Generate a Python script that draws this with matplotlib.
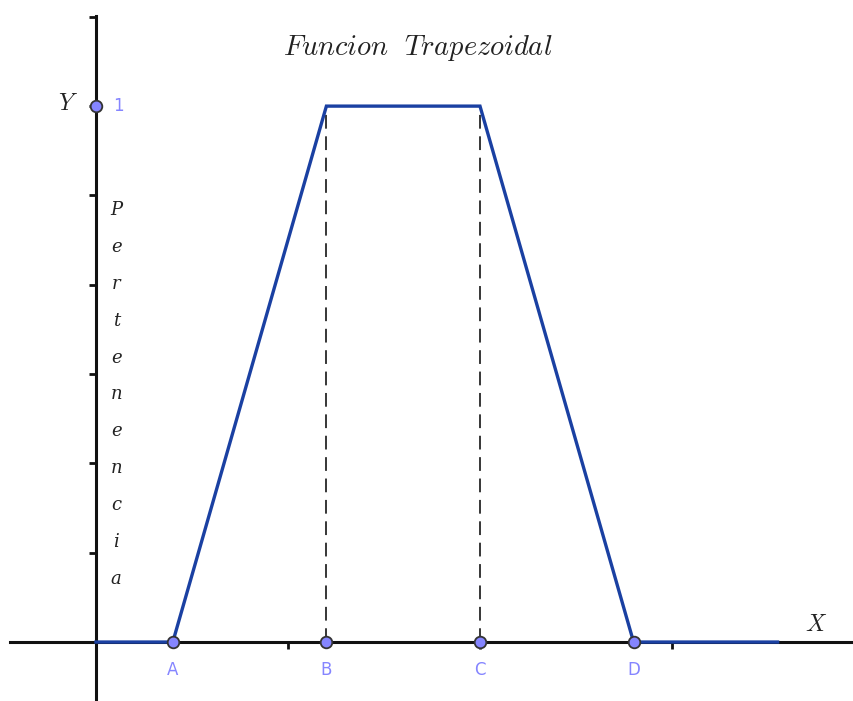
import numpy as np
import matplotlib.pyplot as plt

plt.rcParams['mathtext.fontset'] = 'cm'

# trapezoid corners on the x axis
point_names = ['A', 'B', 'C', 'D']
point_x = [0.4, 1.2, 2.0, 2.8]
# membership curve
curve_x = [0.0, 0.4, 1.2, 2.0, 2.8, 3.55]
curve_y = [0.0, 0.0, 1.0, 1.0, 0.0, 0.0]
y_label_word = 'Pertenencia'

BLUE = '#1a40a2'
PT = '#8585ff'

fig = plt.figure(figsize=(8.54, 7.01), dpi=100)
ax = fig.add_axes([0, 0, 1, 1])
ax.set_xlim(-0.5, 3.948)
ax.set_ylim(-0.110, 1.198)

for s in ['top', 'right']:
    ax.spines[s].set_visible(False)
ax.spines['left'].set_position(('data', 0))
ax.spines['bottom'].set_position(('data', 0))
ax.spines['left'].set_bounds(-0.110, 1.168)
ax.spines['bottom'].set_bounds(-0.45, 3.948)
for s in ['left', 'bottom']:
    ax.spines[s].set_linewidth(2.2)
    ax.spines[s].set_color('#111111')
    ax.spines[s].set_zorder(1)

ax.set_xticks([1, 2, 3])
ax.set_yticks([k / 6 for k in range(1, 8)])
ax.tick_params(axis='both', direction='out', length=5, width=2.0, color='#111111',
               labelleft=False, labelbottom=False)

ax.plot(curve_x, curve_y, color=BLUE, lw=2.4, zorder=3, solid_joinstyle='miter')
for x in point_x[1:3]:
    ax.plot([x, x], [0, 1], color='black', lw=1.1, dashes=(9, 5), zorder=2)

ax.scatter(point_x, [0] * 4, s=70, color=PT, edgecolor='#333333', linewidth=1.3, zorder=4)
ax.scatter([0], [1], s=70, color=PT, edgecolor='#333333', linewidth=1.3, zorder=4)

for name, x in zip(point_names, point_x):
    ax.text(x, -0.052, name, color=PT, fontsize=12, ha='center', va='center')
ax.text(0.115, 1.0, '1', color=PT, fontsize=12, ha='center', va='center')

ax.text(-0.145, 1.005, r'$Y$', fontsize=17, ha='center', va='center', color='#222222')
ax.text(3.75, 0.033, r'$X$', fontsize=17, ha='center', va='center', color='#222222')
ax.text(1.675, 1.108, r'$Funcion\ \ Trapezoidal$', fontsize=20.5, ha='center', va='center', color='#222222')

# vertical axis caption, one letter per line
for i, ch in enumerate(y_label_word):
    ax.text(0.105, 0.806 - i * 0.0688, ch, fontsize=13, family='DejaVu Serif', style='italic',
            ha='center', va='center', color='#222222')

fig.savefig('out.png', dpi=100)
